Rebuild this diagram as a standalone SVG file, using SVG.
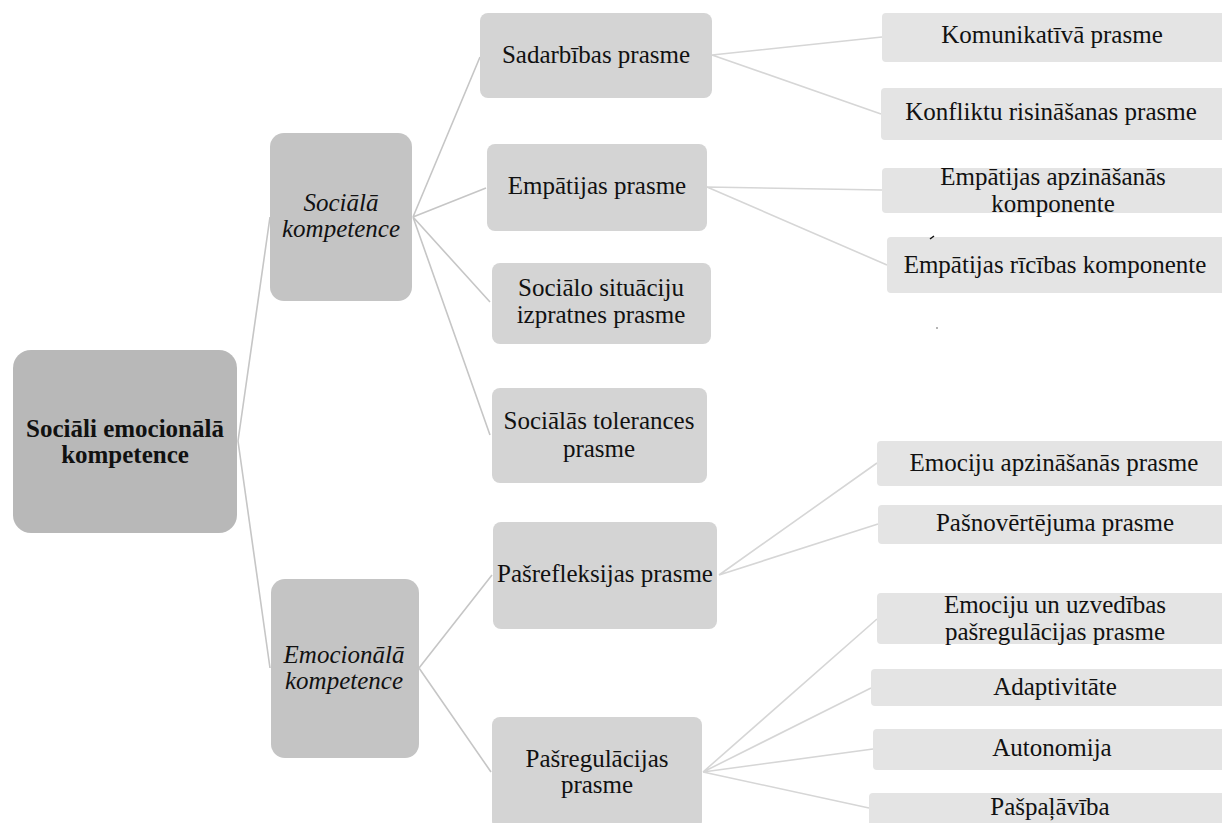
<svg xmlns="http://www.w3.org/2000/svg" width="1222" height="823" viewBox="0 0 1222 823">
<style>
text{font-family:'Liberation Serif','DejaVu Serif',serif;font-size:25px;fill:#111;text-anchor:middle}
.b{font-weight:bold}
.i{font-style:italic}
.r0{fill:#b8b8b8}
.r1{fill:#c4c4c4}
.r2{fill:#d4d4d4}
.r3{fill:#e4e4e4}
.c1{stroke:#c6c6c6;stroke-width:1.6;fill:none}
.c2{stroke:#d6d6d6;stroke-width:1.6;fill:none}
</style>
<rect width="1222" height="823" fill="#fff"/>
<g id="connectors">
<path class="c1" d="M238 441L270 217M238 441L270 668"/>
<path class="c1" d="M413 217L480 57M413 217L486 188M413 217L490 302M413 217L490 435"/>
<path class="c1" d="M419 668L492 575M419 668L491 772"/>
<path class="c2" d="M712 55L882 37M712 55L881 114"/>
<path class="c2" d="M707 187L882 190M707 187L887 265"/>
<path class="c2" d="M719 575L877 463M719 575L878 524"/>
<path class="c2" d="M703 772L877 619M703 772L871 688M703 772L873 749M703 772L869 808"/>
</g>
<g id="n-root"><rect class="r0" x="13" y="350" width="224" height="183" rx="18"/><text class="b" x="125" y="437" font-family="Liberation Serif">Sociāli emocionālā</text><text class="b" x="125" y="463">kompetence</text></g>
<g id="n-social"><rect class="r1" x="270" y="133" width="142" height="168" rx="14"/><text class="i" x="341" y="211">Sociālā</text><text class="i" x="341" y="237">kompetence</text></g>
<g id="n-emotional"><rect class="r1" x="271" y="579" width="148" height="179" rx="14"/><text class="i" x="344" y="663">Emocionālā</text><text class="i" x="344" y="689">kompetence</text></g>
<g id="n-sadarbiba"><rect class="r2" x="480" y="13" width="232" height="85" rx="8"/><text x="596" y="63">Sadarbības prasme</text></g>
<g id="n-empatija"><rect class="r2" x="487" y="144" width="220" height="87" rx="8"/><text x="597" y="194">Empātijas prasme</text></g>
<g id="n-situacijas"><rect class="r2" x="492" y="263" width="219" height="81" rx="8"/><text x="601" y="296">Sociālo situāciju</text><text x="601" y="323">izpratnes prasme</text></g>
<g id="n-tolerance"><rect class="r2" x="492" y="388" width="215" height="95" rx="8"/><text x="599" y="429">Sociālās tolerances</text><text x="599" y="457">prasme</text></g>
<g id="n-pasrefleksija"><rect class="r2" x="493" y="522" width="224" height="107" rx="8"/><text x="605" y="582">Pašrefleksijas prasme</text></g>
<g id="n-pasregulacija"><rect class="r2" x="492" y="717" width="210" height="112" rx="8"/><text x="597" y="767">Pašregulācijas</text><text x="597" y="793">prasme</text></g>
<g id="n-komunikativa"><rect class="r3" x="882" y="13" width="348" height="49" rx="4"/><text x="1052" y="43">Komunikatīvā prasme</text></g>
<g id="n-konflikti"><rect class="r3" x="881" y="88" width="349" height="52" rx="4"/><text x="1051" y="120">Konfliktu risināšanas prasme</text></g>
<g id="n-emp-apz"><rect class="r3" x="882" y="168" width="348" height="45" rx="4"/><text x="1053" y="185">Empātijas apzināšanās</text><text x="1053" y="212">komponente</text></g>
<g id="n-emp-ric"><rect class="r3" x="887" y="237" width="343" height="56" rx="4"/><text x="1055" y="273">Empātijas rīcības komponente</text></g>
<g id="n-emoc-apz"><rect class="r3" x="877" y="441" width="353" height="45" rx="4"/><text x="1054" y="471">Emociju apzināšanās prasme</text></g>
<g id="n-pasnov"><rect class="r3" x="878" y="505" width="352" height="39" rx="4"/><text x="1055" y="531">Pašnovērtējuma prasme</text></g>
<g id="n-emoc-uzv"><rect class="r3" x="877" y="593" width="353" height="51" rx="4"/><text x="1055" y="613">Emociju un uzvedības</text><text x="1055" y="640">pašregulācijas prasme</text></g>
<g id="n-adapt"><rect class="r3" x="871" y="669" width="359" height="37" rx="4"/><text x="1055" y="695">Adaptivitāte</text></g>
<g id="n-auton"><rect class="r3" x="873" y="729" width="357" height="41" rx="4"/><text x="1052" y="756">Autonomija</text></g>
<g id="n-paspal"><rect class="r3" x="869" y="793" width="361" height="40" rx="4"/><text x="1050" y="815">Pašpaļāvība</text></g>
<path d="M930 239L934 236" stroke="#111" stroke-width="1.5"/>
<circle cx="937" cy="328" r="0.7" fill="#333"/>
</svg>
